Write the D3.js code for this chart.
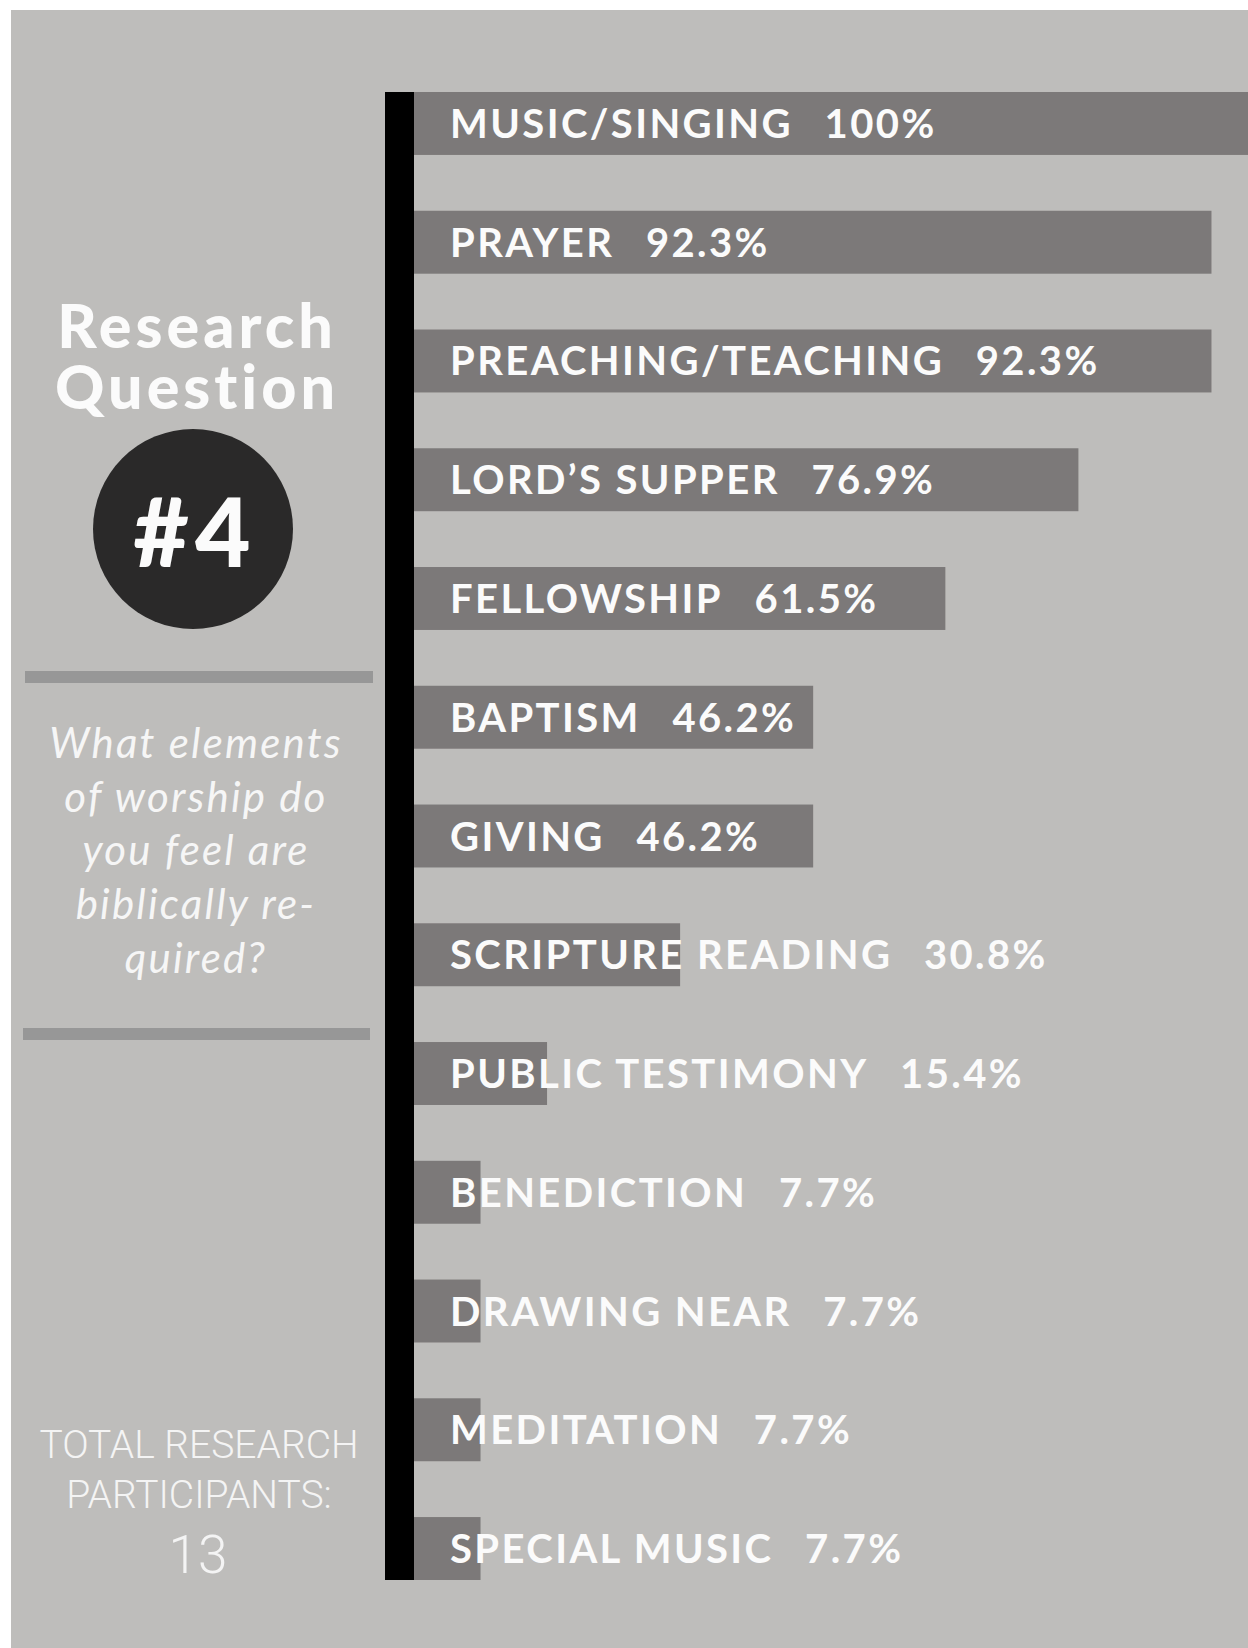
<!DOCTYPE html>
<html>
<head>
<meta charset="utf-8">
<script src="https://cdn.jsdelivr.net/npm/d3@7"></script>
<style>
  html, body { margin: 0; padding: 0; background: #ffffff; }
  svg { display: block; }
</style>
</head>
<body>
<div id="chart"></div>
<script>
// Worship elements named as biblically required, share of respondents (%)
const categories = [
  "MUSIC/SINGING", "PRAYER", "PREACHING/TEACHING", "LORD\u2019S SUPPER",
  "FELLOWSHIP", "BAPTISM", "GIVING", "SCRIPTURE READING",
  "PUBLIC TESTIMONY", "BENEDICTION", "DRAWING NEAR", "MEDITATION", "SPECIAL MUSIC"
];
const values = [100, 92.3, 92.3, 76.9, 61.5, 46.2, 46.2, 30.8, 15.4, 7.7, 7.7, 7.7, 7.7];
const valueLabels = ["100%", "92.3%", "92.3%", "76.9%", "61.5%", "46.2%", "46.2%", "30.8%", "15.4%", "7.7%", "7.7%", "7.7%", "7.7%"];

const titleLines = ["Research", "Question"];
const questionNumber = "#4";
const questionLines = ["What elements", "of worship do", "you feel are", "biblically re-", "quired?"];
const participantLines = ["TOTAL RESEARCH", "PARTICIPANTS:"];
const participantCount = "13";

const W = 1248, H = 1648;
const svg = d3.select("#chart").append("svg")
  .attr("width", W).attr("height", H);

// panel background
svg.append("rect")
  .attr("x", 11).attr("y", 10)
  .attr("width", W - 11).attr("height", H - 10)
  .attr("fill", "#bebdbb");

const data = categories.map((c, i) => ({ name: c, value: values[i], label: valueLabels[i] }));

const axisX = 414;
const x = d3.scaleLinear().domain([0, 100]).range([axisX, 1278]);
const y = d3.scaleBand().domain(categories).range([92, 1580]).paddingInner(0.47).paddingOuter(0);

// bars
svg.append("g").selectAll("rect")
  .data(data).join("rect")
  .attr("x", x(0))
  .attr("y", d => y(d.name))
  .attr("width", d => x(d.value) - x(0))
  .attr("height", y.bandwidth())
  .attr("fill", "#7c7979");

// thick baseline axis
const yr = y.range();
svg.append("rect")
  .attr("x", axisX - 29).attr("y", yr[0])
  .attr("width", 29).attr("height", yr[1] - yr[0])
  .attr("fill", "#000");

// bar labels with values
const ls = 2.4;
const labels = svg.append("g").selectAll("text")
  .data(data).join("text")
  .attr("x", 450)
  .attr("y", d => y(d.name) + y.bandwidth() / 2 + 14.5)
  .attr("fill", "#fbfbfb")
  .attr("font-family", "Lato, 'Open Sans', sans-serif")
  .attr("font-weight", 700)
  .attr("font-size", 40)
  .attr("letter-spacing", ls);
labels.append("tspan").text(d => d.name);
labels.append("tspan").attr("dx", 34 - ls).text(d => d.label);

// left panel: title (one text block, two lines)
const left = svg.append("g");
const title = left.append("text")
  .attr("text-anchor", "middle")
  .attr("fill", "#fbfbfb")
  .attr("font-family", "Lato, sans-serif")
  .attr("font-weight", 900)
  .attr("font-size", 61)
  .attr("letter-spacing", 4);
title.selectAll("tspan")
  .data(titleLines).join("tspan")
  .attr("x", 197)
  .attr("y", (d, i) => 348 + i * 61)
  .text(d => d);

left.append("circle")
  .attr("cx", 193).attr("cy", 529).attr("r", 100)
  .attr("fill", "#2a2929");
left.append("text")
  .attr("x", 195).attr("y", 567)
  .attr("text-anchor", "middle")
  .attr("fill", "#fbfbfb")
  .attr("font-family", "Lato, sans-serif")
  .attr("font-weight", 900)
  .attr("font-size", 96)
  .attr("letter-spacing", 6)
  .text(questionNumber);

// dividers
left.append("rect").attr("x", 25).attr("y", 671).attr("width", 348).attr("height", 12).attr("fill", "#979797");
left.append("rect").attr("x", 23).attr("y", 1028).attr("width", 347).attr("height", 12).attr("fill", "#979797");

// question text
left.selectAll("text.q")
  .data(questionLines).join("text")
  .attr("class", "q")
  .attr("x", 196)
  .attr("y", (d, i) => 758 + i * 53.7)
  .attr("text-anchor", "middle")
  .attr("fill", "#f6f6f6")
  .attr("font-family", "Lato, 'Open Sans', sans-serif")
  .attr("font-style", "italic")
  .attr("font-weight", 400)
  .attr("font-size", 42)
  .attr("letter-spacing", 2.2)
  .text(d => d);

// participants
left.selectAll("text.p")
  .data(participantLines).join("text")
  .attr("class", "p")
  .attr("x", 199)
  .attr("y", (d, i) => 1458 + i * 50)
  .attr("text-anchor", "middle")
  .attr("fill", "#f4f4f4")
  .attr("font-family", "Roboto, sans-serif")
  .attr("font-weight", 300)
  .attr("font-size", 39)
  .text(d => d);
left.append("text")
  .attr("x", 198).attr("y", 1573)
  .attr("text-anchor", "middle")
  .attr("fill", "#f4f4f4")
  .attr("font-family", "Roboto, sans-serif")
  .attr("font-weight", 300)
  .attr("font-size", 53)
  .text(participantCount);
</script>
</body>
</html>
